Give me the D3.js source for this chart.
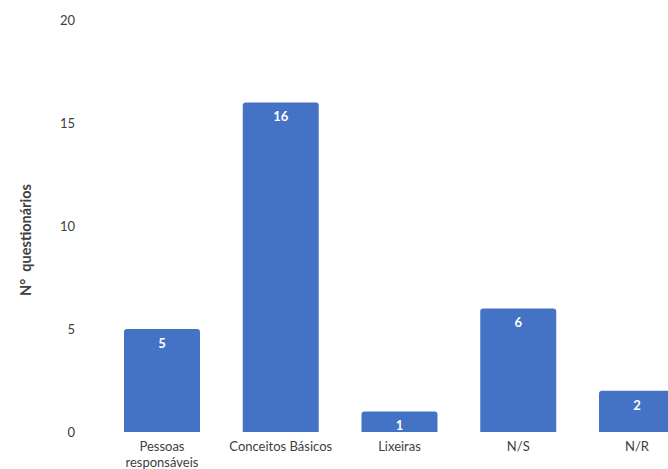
<!DOCTYPE html>
<html><head><meta charset="utf-8">
<script src="https://cdn.jsdelivr.net/npm/d3@7"></script>
<style>body{margin:0;background:#fff;overflow:hidden}svg{display:block}</style>
</head><body>
<script>
const categories = [["Pessoas","responsáveis"],["Conceitos Básicos"],["Lixeiras"],["N/S"],["N/R"]];
const values = [5,16,1,6,2];
const yTicks = [0,5,10,15,20];
const yTitle = "N°  questionários";

const W = 668, H = 469;
const svg = d3.select("body").append("svg").attr("width",W).attr("height",H);
const font = "Lato, 'Open Sans', sans-serif";
const x = d3.scaleBand().domain(d3.range(values.length)).range([102.6, 696.4]).paddingInner(0.36).paddingOuter(0.18);
const y = d3.scaleLinear().domain([0,20]).range([432,20]);

const r = 3;
svg.append("g").selectAll("path").data(values).join("path")
  .attr("fill","#4472C4")
  .attr("d",(d,i)=>{
    const x0=x(i), x1=x(i)+x.bandwidth(), y0=y(0), y1=y(d);
    return `M${x0},${y0}V${y1+r}Q${x0},${y1} ${x0+r},${y1}H${x1-r}Q${x1},${y1} ${x1},${y1+r}V${y0}Z`;
  });

svg.append("g").selectAll("text").data(values).join("text")
  .attr("x",(d,i)=>x(i)+x.bandwidth()/2).attr("y",d=>y(d)+19)
  .attr("text-anchor","middle").attr("fill","#fff").attr("font-weight","bold")
  .attr("font-family",font).attr("font-size",13).text(d=>d);

svg.append("g").selectAll("text").data(yTicks).join("text")
  .attr("x",75).attr("y",d=>y(d)+5).attr("text-anchor","end")
  .attr("fill","#404040").attr("font-family",font).attr("font-size",13).text(d=>d);

const cl = svg.append("g").selectAll("text").data(categories).join("text")
  .attr("text-anchor","middle").attr("fill","#404040").attr("font-family",font).attr("font-size",13);
cl.each(function(d,i){
  d3.select(this).selectAll("tspan").data(d).join("tspan")
    .attr("x",x(i)+x.bandwidth()/2).attr("y",(t,j)=>451+j*16).text(t=>t);
});

svg.append("text").attr("transform","translate(31,240) rotate(-90)")
  .attr("text-anchor","middle").attr("font-weight","bold").attr("fill","#404040")
  .style("white-space","pre")
  .attr("font-family",font).attr("font-size",14.5).text(yTitle);
</script>
</body></html>
